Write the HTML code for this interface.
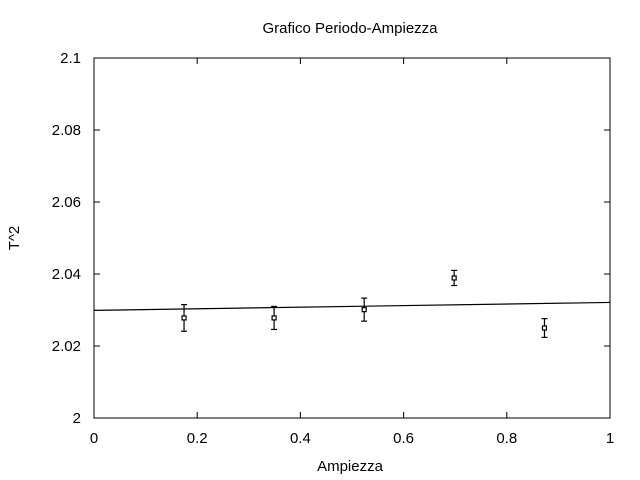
<!DOCTYPE html>
<html><head><meta charset="utf-8"><style>
body{margin:0;background:#fff}
svg{display:block;font-family:"Liberation Sans",sans-serif;font-size:15px}
</style></head><body>
<svg id="c" width="640" height="480">
<rect x="0" y="0" width="640" height="480" fill="#fff"/>
<text x="350" y="33" text-anchor="middle">Grafico Periodo-Ampiezza</text>
<text x="350" y="471" text-anchor="middle">Ampiezza</text>
<text transform="translate(19,238) rotate(-90)" text-anchor="middle">T^2</text>
<rect x="94" y="58" width="516" height="360" fill="none" stroke="#000" stroke-width="1"/>
<g id="ticks"></g>
<g id="marks"></g>
</svg>
<script>
const xTicks=[0,0.2,0.4,0.6,0.8,1];
const xTickLabels=["0","0.2","0.4","0.6","0.8","1"];
const yTicks=[2,2.02,2.04,2.06,2.08,2.1];
const yTickLabels=["2","2.02","2.04","2.06","2.08","2.1"];
const xVals=[0.1745,0.349,0.5236,0.698,0.873];
const yVals=[2.0278,2.0278,2.0301,2.0389,2.025];
const yErrs=[0.0037,0.0032,0.0032,0.0021,0.0026];
const fitX=[0,1];
const fitY=[2.0299,2.0321];
const X0=94,X1=610,Y0=418,Y1=58;
const sx=v=>X0+(v-0)/(1-0)*(X1-X0);
const sy=v=>Y0-(v-2)/(2.1-2)*(Y0-Y1);
const NS="http://www.w3.org/2000/svg";
function mk(t,a,p){const e=document.createElementNS(NS,t);for(const k in a)e.setAttribute(k,a[k]);p.appendChild(e);return e;}
const T=document.getElementById('ticks'),M=document.getElementById('marks');
xTicks.forEach((v,i)=>{const x=sx(v);
 mk('line',{x1:x,y1:Y0,x2:x,y2:Y0-6,stroke:'#000'},T);
 mk('line',{x1:x,y1:Y1,x2:x,y2:Y1+6,stroke:'#000'},T);
 const t=mk('text',{x:x,y:Y0+25,'text-anchor':'middle'},T);t.textContent=xTickLabels[i];
 
 });
yTicks.forEach((v,i)=>{const y=sy(v);
 mk('line',{x1:X0,y1:y,x2:X0+6,y2:y,stroke:'#000'},T);
 mk('line',{x1:X1,y1:y,x2:X1-6,y2:y,stroke:'#000'},T);
 const t=mk('text',{x:X0-13,y:y+5,'text-anchor':'end'},T);t.textContent=yTickLabels[i];
 
 });
const fl=mk('line',{x1:sx(fitX[0]),y1:sy(fitY[0]),x2:sx(fitX[1]),y2:sy(fitY[1]),stroke:'#000','stroke-width':1.2},M);


xVals.forEach((v,i)=>{const x=sx(v),y=sy(yVals[i]),yt=sy(yVals[i]+yErrs[i]),yb=sy(yVals[i]-yErrs[i]);
 const g=mk('g',{stroke:'#000','stroke-width':1.2,fill:'none'},M);
 
 
 mk('line',{x1:x,y1:yt,x2:x,y2:yb},g);
 mk('line',{x1:x-3,y1:yt,x2:x+3,y2:yt},g);
 mk('line',{x1:x-3,y1:yb,x2:x+3,y2:yb},g);
 mk('rect',{x:x-2,y:y-2,width:4,height:4,fill:'#fff'},g);});
</script>
</body></html>
